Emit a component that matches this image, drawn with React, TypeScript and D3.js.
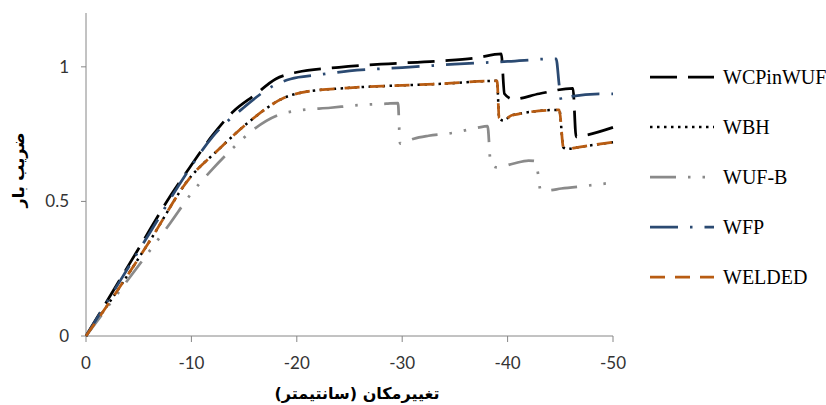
import React from "react";
import * as d3 from "d3";

const W = 826;
const H = 405;

const xTicks = [0, -10, -20, -30, -40, -50];
const yTicks = [0, 0.5, 1];
const yTickLabels = ["0", "0.5", "1"];

const seriesNames = ["WCPinWUF", "WBH", "WUF-B", "WFP", "WELDED"];

const wcpX = [0, -2, -5, -8, -10, -12, -14, -16, -18, -20, -24, -28, -33.7, -37, -39.4, -39.7, -40.5, -43, -46.2, -46.5, -47.3, -50];
const wcpY = [0, 0.13, 0.325, 0.52, 0.635, 0.745, 0.835, 0.895, 0.955, 0.98, 0.998, 1.01, 1.022, 1.033, 1.048, 0.9, 0.88, 0.9, 0.92, 0.74, 0.745, 0.775];

const wbhX = [0, -3, -6, -9.9, -12.5, -15.6, -18.8, -20.4, -25, -29.2, -33.7, -39.0, -39.2, -39.6, -40.4, -44.9, -45.3, -45.7, -46.5, -50];
const wbhY = [0, 0.17, 0.35, 0.59, 0.69, 0.8, 0.885, 0.904, 0.922, 0.93, 0.937, 0.948, 0.81, 0.8, 0.82, 0.84, 0.7, 0.695, 0.7, 0.72];

const wufX = [0, -4, -8, -10, -12, -14, -16, -18.2, -20, -23.2, -26, -28.5, -29.6, -29.8, -31.1, -32.5, -35, -36.3, -37.7, -38.1, -38.4, -39, -40.5, -42, -42.6, -42.9, -43.1, -43.8, -45.1, -47.7, -50];
const wufY = [0, 0.21, 0.42, 0.53, 0.62, 0.7, 0.77, 0.82, 0.837, 0.848, 0.858, 0.863, 0.865, 0.715, 0.733, 0.744, 0.756, 0.767, 0.778, 0.78, 0.64, 0.626, 0.64, 0.652, 0.65, 0.6, 0.545, 0.541, 0.548, 0.559, 0.57];

const wfpX = [0, -3, -6, -9.3, -12, -15, -17.8, -19.4, -22, -25, -30, -35, -40, -44.6, -44.9, -45.1, -46, -48.7, -50];
const wfpY = [0, 0.19, 0.38, 0.59, 0.74, 0.85, 0.93, 0.955, 0.97, 0.985, 0.997, 1.01, 1.02, 1.03, 0.93, 0.875, 0.89, 0.9, 0.9];

const weldX = [0, -3, -6, -9.9, -12.5, -15.6, -18.8, -20.4, -25, -29.2, -33.7, -39.0, -39.2, -39.6, -40.4, -44.9, -45.3, -45.7, -46.5, -50];
const weldY = [0, 0.17, 0.35, 0.59, 0.69, 0.8, 0.885, 0.904, 0.922, 0.93, 0.937, 0.948, 0.81, 0.8, 0.82, 0.84, 0.7, 0.695, 0.7, 0.72];

const seriesX = [wcpX, wbhX, wufX, wfpX, weldX];
const seriesY = [wcpY, wbhY, wufY, wfpY, weldY];
const colors = ["#000000", "#000000", "#8a8a8a", "#2b4a72", "#b85c12"];
const dashes = ["27 11", "2.5 4.5", "26 12 2.5 12 2.5 12", "28 12 2.5 12", "15 10"];
const widths = [2.75, 2.5, 2.75, 2.75, 2.75];

export default function App() {
  const x = d3.scaleLinear().domain([0, -50]).range([86, 613]);
  const y = d3.scaleLinear().domain([0, 1.2]).range([336, 13]);
  const line = d3
    .line<[number, number]>()
    .x((d) => x(d[0]))
    .y((d) => y(d[1]))
    .curve(d3.curveMonotoneX);

  const axisColor = "#868686";
  const legendY = [77, 127, 177, 227, 277];

  return (
    <svg
      width={W}
      height={H}
      style={{ position: "absolute", left: 0, top: 0, background: "#fff" }}
    >
      <rect x={0} y={0} width={W} height={H} fill="#fff" />
      {/* axes */}
      <line x1={x(0)} x2={x(-50)} y1={y(0)} y2={y(0)} stroke={axisColor} strokeWidth={1} />
      <line x1={x(0)} x2={x(0)} y1={y(0)} y2={y(1.2)} stroke={axisColor} strokeWidth={1} />
      {xTicks.map((t) => (
        <g key={"xt" + t}>
          <line x1={x(t)} x2={x(t)} y1={y(0)} y2={y(0) + 6} stroke={axisColor} strokeWidth={1} />
          <text
            x={x(t)}
            y={369}
            textAnchor="middle"
            fontFamily="Lato, 'Open Sans', sans-serif"
            fontSize={17}
            fill="#333"
          >
            {t === 0 ? "0" : String(t)}
          </text>
        </g>
      ))}
      {yTicks.map((t, i) => (
        <g key={"yt" + t}>
          <line x1={x(0) - 5} x2={x(0)} y1={y(t)} y2={y(t)} stroke={axisColor} strokeWidth={1} />
          <text
            x={69}
            y={y(t) + 6}
            textAnchor="end"
            fontFamily="Lato, 'Open Sans', sans-serif"
            fontSize={17}
            fill="#333"
          >
            {yTickLabels[i]}
          </text>
        </g>
      ))}
      {/* series */}
      {seriesNames.map((name, i) => {
        const pts: [number, number][] = seriesX[i].map((v, j) => [v, seriesY[i][j]]);
        return (
          <path
            key={name}
            d={line(pts) || ""}
            fill="none"
            stroke={colors[i]}
            strokeWidth={widths[i]}
            strokeDasharray={dashes[i]}
          />
        );
      })}
      {/* legend */}
      {seriesNames.map((name, i) => (
        <g key={"lg" + name}>
          <line
            x1={650}
            x2={714}
            y1={legendY[i]}
            y2={legendY[i]}
            stroke={colors[i]}
            strokeWidth={widths[i]}
            strokeDasharray={dashes[i]}
          />
          <text
            x={723}
            y={legendY[i] + 7}
            fontFamily="'Liberation Serif', 'Times New Roman', serif"
            fontSize={20}
            fill="#000"
          >
            {name}
          </text>
        </g>
      ))}
      {/* axis titles */}
      <text
        x={357}
        y={399}
        textAnchor="middle"
        fontFamily="'DejaVu Sans', sans-serif"
        fontWeight="bold"
        fontSize={16}
        fill="#000"
        direction="rtl"
      >
        تغییرمکان (سانتیمتر)
      </text>
      <text
        transform="translate(24,170) rotate(-90)"
        textAnchor="middle"
        fontFamily="'DejaVu Sans', sans-serif"
        fontWeight="bold"
        fontSize={16}
        fill="#000"
        direction="rtl"
      >
        ضریب بار
      </text>
    </svg>
  );
}
